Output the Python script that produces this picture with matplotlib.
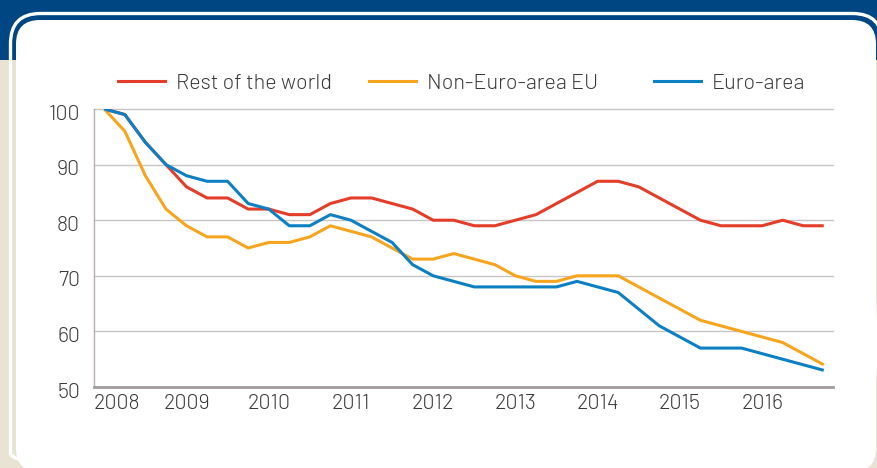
import matplotlib
matplotlib.use("Agg")
import matplotlib.pyplot as plt
from matplotlib.patches import FancyBboxPatch, Rectangle
from matplotlib.lines import Line2D
from matplotlib.transforms import ScaledTranslation
import numpy as np

plt.rcParams['font.family'] = ['Barlow', 'Barlow Semi Condensed', 'Roboto Condensed', 'DejaVu Sans']
plt.rcParams['font.weight'] = 300

# ---- data (quarterly, 2008Q1 .. 2016Q4) ----
years = ["2008", "2009", "2010", "2011", "2012", "2013", "2014", "2015", "2016"]
rest_of_world = [100, 99, 94, 90, 86, 84, 84, 82, 82, 81, 81, 83, 84,
                 84, 83, 82, 80, 80, 79, 79, 80, 81, 83, 85, 87, 87,
                 86, 84, 82, 80, 79, 79, 79, 80, 79, 79]
non_euro_eu = [100, 96, 88, 82, 79, 77, 77, 75, 76, 76, 77, 79, 78,
               77, 75, 73, 73, 74, 73, 72, 70, 69, 69, 70, 70, 70,
               68, 66, 64, 62, 61, 60, 59, 58, 56, 54]
euro_area = [100, 99, 94, 90, 88, 87, 87, 83, 82, 79, 79, 81, 80,
             78, 76, 72, 70, 69, 68, 68, 68, 68, 68, 69, 68, 67,
             64, 61, 59, 57, 57, 57, 56, 55, 54, 53]
series_names = ["Rest of the world", "Non-Euro-area EU", "Euro-area"]
y_ticks = [50, 60, 70, 80, 90, 100]

colors = ["#e43d29", "#f7a51e", "#0c80c3"]
text_color = "#3a3a3a"
fsize = 15.5

W, H = 877, 468
fig = plt.figure(figsize=(W / 100, H / 100), dpi=100)

# ---- decorative background ----
bg = fig.add_axes([0, 0, 1, 1])
bg.set_xlim(0, W)
bg.set_ylim(H, 0)
bg.axis("off")
beige = "#e9e3d4"
navy = "#004682"
bg.add_patch(Rectangle((0, 0), W, H, facecolor=beige, edgecolor="none"))
bg.add_patch(Rectangle((0, 0), W, 60, facecolor=navy, edgecolor="none"))
bg.add_patch(FancyBboxPatch((10.5, 13.5), 872, 470,
                            boxstyle="round,pad=0,rounding_size=30",
                            facecolor="none", edgecolor="white", linewidth=2.4))
bg.add_patch(FancyBboxPatch((16, 20), 860, 452,
                            boxstyle="round,pad=0,rounding_size=24",
                            facecolor="white", edgecolor="none"))

# ---- chart ----
ax = fig.add_axes([94 / W, 1 - 387 / H, (833 - 94) / W, (387 - 109) / H])
ax.set_facecolor("none")
x = np.arange(len(rest_of_world))
for vals, c, name in zip([rest_of_world, non_euro_eu, euro_area], colors, series_names):
    ax.plot(x, vals, color=c, linewidth=2.2, label=name, solid_joinstyle="round",
            solid_capstyle="butt", zorder=3)

ax.set_xlim(-0.5, 35.45)
ax.set_ylim(50, 100)
ax.set_yticks(y_ticks)
ax.set_yticklabels([str(v) for v in y_ticks])
tick_pos = [-0.5] + [4 * i for i in range(1, len(years))]
ax.set_xticks(tick_pos)
ax.set_xticklabels(years)
ax.get_xticklabels()[0].set_ha("left")

ax.tick_params(axis="both", length=0, labelsize=fsize, labelcolor=text_color)
ax.tick_params(axis="y", pad=10)
ax.tick_params(axis="x", pad=5)

# y labels sit slightly below their gridlines in the reference
shift = ScaledTranslation(0, -3 / 100, fig.dpi_scale_trans)
for lbl in ax.get_yticklabels():
    lbl.set_transform(lbl.get_transform() + shift)

for v in y_ticks[1:]:
    ax.axhline(v, color="#cbc4c4", linewidth=1.0, zorder=1, clip_on=False)
for s in ["top", "right"]:
    ax.spines[s].set_visible(False)
ax.spines["left"].set_color("#b8b0b0")
ax.spines["left"].set_linewidth(1.0)
ax.spines["bottom"].set_color("#a29b9b")
ax.spines["bottom"].set_linewidth(2.0)

# ---- legend (three entries placed like the reference) ----
handles = [Line2D([], [], color=c, linewidth=2.2) for c in colors]
leg_x = [118, 369, 654]
for h, name, lx in zip(handles, series_names, leg_x):
    lg = fig.legend([h], [name], loc="center left",
                    bbox_to_anchor=(lx / W, 1 - 83 / H), frameon=False,
                    prop={"size": fsize, "weight": 300},
                    handlelength=2.2, handletextpad=0.5,
                    borderaxespad=0, borderpad=0)
    for t in lg.get_texts():
        t.set_color(text_color)

fig.savefig("out.png", dpi=100)
